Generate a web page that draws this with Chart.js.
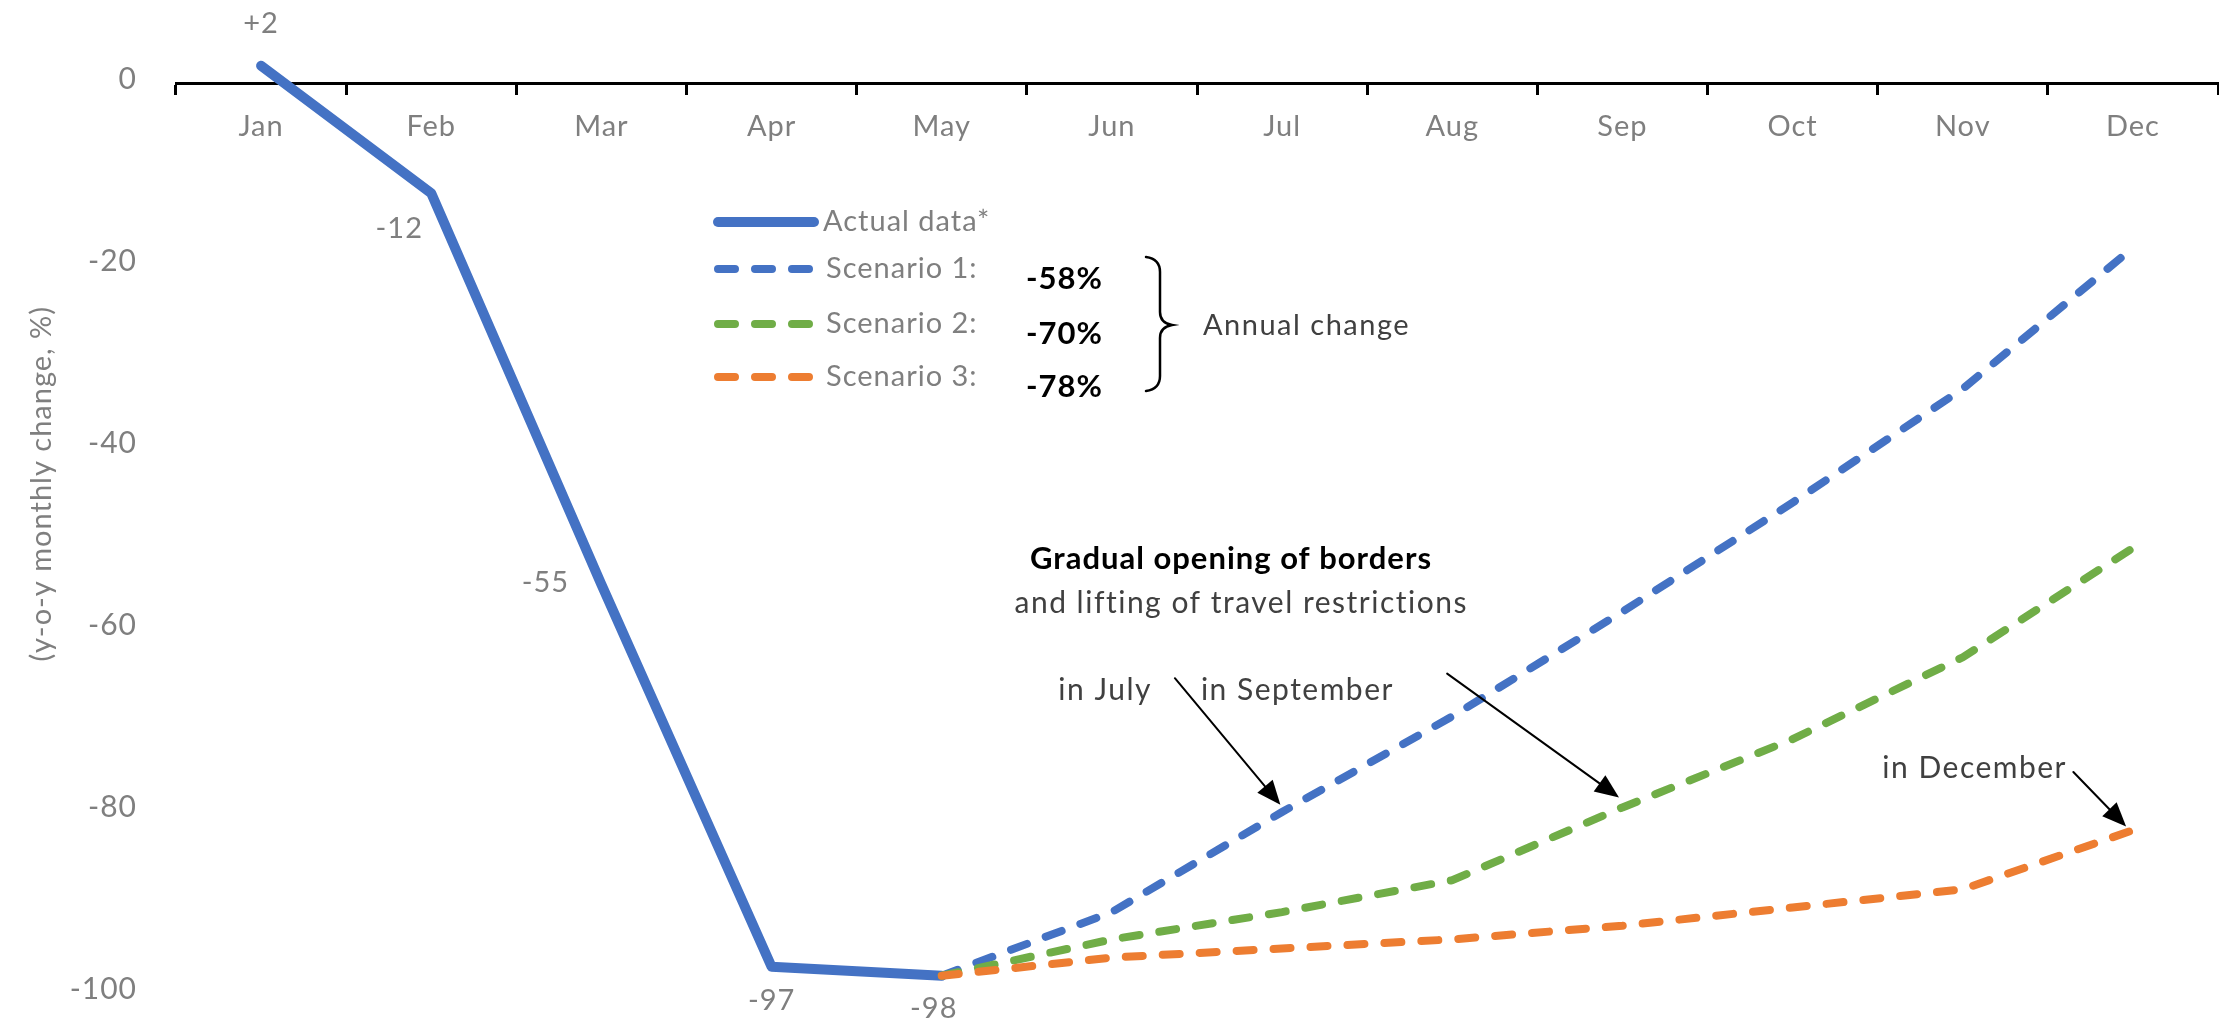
<!DOCTYPE html>
<html>
<head>
<meta charset="utf-8">
<script src="https://cdn.jsdelivr.net/npm/chart.js@4.4.0/dist/chart.umd.min.js"></script>
<style>
  html, body { margin: 0; padding: 0; background: #fff; }
  #wrap { width: 2219px; height: 1018px; }
</style>
</head>
<body>
<div id="wrap"><canvas id="myChart" width="2219" height="1018"></canvas></div>
<script>
const months = ["Jan", "Feb", "Mar", "Apr", "May", "Jun", "Jul", "Aug", "Sep", "Oct", "Nov", "Dec"];
const actualData = [2, -12, -55, -97, -98, null, null, null, null, null, null, null];
const scenario1 = [null, null, null, null, -98, -91, -80, -69.5, -58, -46, -33.5, -18];
const scenario2 = [null, null, null, null, -98, -94, -91, -87.5, -79.5, -72, -63, -51];
const scenario3 = [null, null, null, null, -98, -96, -95, -94, -92.5, -90.5, -88.5, -82];
const yTicks = [0, -20, -40, -60, -80, -100];
const seriesNames = ["Actual data*", "Scenario 1:", "Scenario 2:", "Scenario 3:"];
const annualChange = ["-58%", "-70%", "-78%"];
const annualLabel = "Annual change";
const yTitle = "(y-o-y monthly change, %)";

// annotation texts, placed in data units (x = month index, y = value)
const notes = [
  { text: "Gradual opening of borders", x: 5.70, y: -52.2, bold: true },
  { text: "and lifting of travel restrictions", x: 5.76, y: -57.1 },
  { text: "in July", x: 4.96, y: -66.6 },
  { text: "in September", x: 6.09, y: -66.6 },
  { text: "in December", x: 10.07, y: -75.2 },
];
const arrows = [
  { from: [5.37, -65.3], to: [5.99, -79.2] },
  { from: [6.97, -64.8], to: [7.98, -78.4] },
  { from: [10.65, -75.6], to: [10.96, -81.6] },
];

const BLUE = "#4472C4";
const GREEN = "#70AD47";
const ORANGE = "#ED7D31";
const GREY = "#7f7f7f";
const DARK = "#404040";
const FONT = "Lato, 'Open Sans', sans-serif";

Chart.defaults.font.family = FONT;

var myChart;

function fmtLabel(v) {
  return v > 0 ? "+" + v : String(v);
}

function drawArrow(ctx, x1, y1, x2, y2) {
  const ang = Math.atan2(y2 - y1, x2 - x1);
  const head = 24, half = 10;
  const bx = x2 - head * Math.cos(ang), by = y2 - head * Math.sin(ang);
  ctx.strokeStyle = "#000";
  ctx.fillStyle = "#000";
  ctx.lineWidth = 2;
  ctx.setLineDash([]);
  ctx.beginPath();
  ctx.moveTo(x1, y1);
  ctx.lineTo(bx, by);
  ctx.stroke();
  ctx.beginPath();
  ctx.moveTo(x2, y2);
  ctx.lineTo(bx + half * Math.sin(ang), by - half * Math.cos(ang));
  ctx.lineTo(bx - half * Math.sin(ang), by + half * Math.cos(ang));
  ctx.closePath();
  ctx.fill();
}

const extrasPlugin = {
  id: "extras",
  beforeDraw(chart) {
    // the original typeface is wider than Lato
    chart.ctx.letterSpacing = "1px";
  },
  afterDraw(chart) {
    const ctx = chart.ctx;
    const xs = chart.scales.x, ys = chart.scales.y;
    ctx.save();

    // value labels on the actual line
    const offsets = [[0, -42], [-32, 35], [-56, -2], [0, 34], [-8, 33]];
    ctx.font = "29px " + FONT;
    ctx.letterSpacing = "1px";
    ctx.fillStyle = GREY;
    ctx.textAlign = "center";
    ctx.textBaseline = "middle";
    actualData.forEach((v, i) => {
      if (v === null) return;
      const px = xs.getPixelForValue(i), py = ys.getPixelForValue(v);
      ctx.fillText(fmtLabel(v), px + offsets[i][0], py + offsets[i][1]);
    });

    // legend
    const lx0 = 718, lx1 = 810;
    const rows = [222, 269, 324, 377];
    chart.data.datasets.forEach((ds, i) => {
      ctx.strokeStyle = ds.borderColor;
      ctx.lineWidth = ds.borderWidth;
      ctx.lineCap = "round";
      ctx.setLineDash(ds.borderDash || []);
      ctx.beginPath();
      ctx.moveTo(lx0, rows[i]);
      ctx.lineTo(i === 0 ? 814 : lx1, rows[i]);
      ctx.stroke();
      ctx.setLineDash([]);
      ctx.font = "29px " + FONT;
      ctx.letterSpacing = "1px";
      ctx.fillStyle = GREY;
      ctx.textAlign = "left";
      ctx.fillText(seriesNames[i], i === 0 ? 823 : 826, rows[i]);
    });
    ctx.font = "bold 31px " + FONT;
    ctx.letterSpacing = "1px";
    ctx.fillStyle = "#000";
    annualChange.forEach((t, i) => {
      ctx.fillText(t, 1026, rows[i + 1] + 10);
    });

    // brace
    ctx.strokeStyle = "#000";
    ctx.lineWidth = 2.5;
    ctx.lineCap = "round";
    ctx.beginPath();
    ctx.moveTo(1146, 257);
    ctx.quadraticCurveTo(1160, 259, 1160, 272);
    ctx.lineTo(1160, 312);
    ctx.quadraticCurveTo(1160, 323, 1172, 325);
    ctx.quadraticCurveTo(1160, 327, 1160, 338);
    ctx.lineTo(1160, 376);
    ctx.quadraticCurveTo(1160, 389, 1146, 391);
    ctx.stroke();
    ctx.font = "29px " + FONT;
    ctx.letterSpacing = "1.5px";
    ctx.fillStyle = DARK;
    ctx.fillText(annualLabel, 1203, 326);

    // annotations
    ctx.textAlign = "center";
    notes.forEach((n) => {
      ctx.font = (n.bold ? "bold 31px " : "30px ") + FONT;
      ctx.letterSpacing = n.bold ? "1px" : "1.5px";
      ctx.fillStyle = n.bold ? "#000" : DARK;
      ctx.fillText(n.text, xs.getPixelForValue(n.x), ys.getPixelForValue(n.y));
    });
    arrows.forEach((a) => {
      drawArrow(ctx,
        xs.getPixelForValue(a.from[0]), ys.getPixelForValue(a.from[1]),
        xs.getPixelForValue(a.to[0]), ys.getPixelForValue(a.to[1]));
    });
    ctx.restore();
  },
};

function drawChart() {
  const ctx = document.getElementById("myChart");
  const dashed = [17, 20];

  myChart = new Chart(ctx, {
    type: "line",
    data: {
      labels: months,
      datasets: [
        {
          label: seriesNames[0],
          data: actualData,
          borderColor: BLUE,
          borderWidth: 10,
          pointRadius: 0,
          borderCapStyle: "round",
          borderJoinStyle: "round",
          order: 3,
        },
        {
          label: seriesNames[1],
          data: scenario1,
          borderColor: BLUE,
          borderWidth: 8,
          borderDash: dashed,
          pointRadius: 0,
          borderCapStyle: "round",
          order: 2,
        },
        {
          label: seriesNames[2],
          data: scenario2,
          borderColor: GREEN,
          borderWidth: 8,
          borderDash: dashed,
          pointRadius: 0,
          borderCapStyle: "round",
          order: 1,
        },
        {
          label: seriesNames[3],
          data: scenario3,
          borderColor: ORANGE,
          borderWidth: 8,
          borderDash: dashed,
          pointRadius: 0,
          borderCapStyle: "round",
          order: 0,
        },
      ],
    },
    options: {
      responsive: false,
      animation: false,
      devicePixelRatio: 1,
      layout: { padding: { top: 0, bottom: 0, left: 0, right: 1 } },
      plugins: {
        legend: { display: false },
        tooltip: { enabled: false },
      },
      scales: {
        x: {
          position: { y: 0 },
          offset: true,
          grid: {
            offset: true,
            drawOnChartArea: false,
            drawTicks: true,
            tickLength: 10,
            tickWidth: 3,
            tickColor: "#000",
          },
          border: { display: true, color: "#000", width: 3 },
          ticks: {
            color: GREY,
            font: { size: 29 },
            padding: 15,
            maxRotation: 0,
            autoSkip: false,
          },
        },
        y: {
          min: -102.64,
          max: 9.23,
          grid: { display: false, drawTicks: false },
          border: { display: false },
          afterBuildTicks: (scale) => {
            scale.ticks = yTicks.map((v) => ({ value: v }));
          },
          afterFit: (scale) => {
            scale.width = 176;
            scale.paddingTop = 0;
            scale.paddingBottom = 0;
          },
          ticks: {
            color: GREY,
            font: { size: 30 },
            padding: 39,
            labelOffset: -5,
            callback: (v) => String(v),
          },
          title: {
            display: true,
            // leading spaces nudge the centred title up, as in the original
            text: "      " + yTitle,
            color: GREY,
            font: { size: 29 },
            padding: { top: 24, bottom: 0 },
          },
        },
      },
    },
    plugins: [extrasPlugin],
  });
}

drawChart();
</script>
</body>
</html>
